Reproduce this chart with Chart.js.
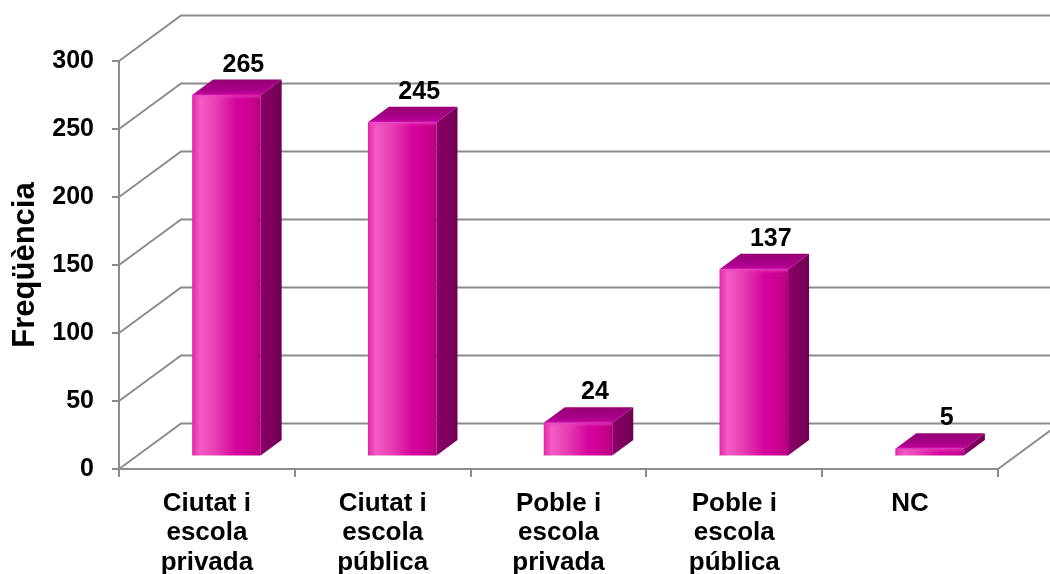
<!DOCTYPE html>
<html>
<head>
<meta charset="utf-8">
<script src="https://cdn.jsdelivr.net/npm/chart.js@4.4.0/dist/chart.umd.min.js"></script>
<style>
  html, body { margin: 0; padding: 0; background: #ffffff; }
  #wrap { width: 1050px; height: 574px; }
</style>
</head>
<body>
<div id="wrap"><canvas id="chart" width="1050" height="574"></canvas></div>
<script>
// Categories (multi-line axis labels)
const categories = [
  ['Ciutat i', 'escola', 'privada'],
  ['Ciutat i', 'escola', 'pública'],
  ['Poble i', 'escola', 'privada'],
  ['Poble i', 'escola', 'pública'],
  ['NC']
];
// Frequency per category
const frequencies = [265, 245, 24, 137, 5];
// Value axis ticks
const yTicks = [0, 50, 100, 150, 200, 250, 300];
const axisTitle = 'Freqüència';

// 3D box geometry: depth of the plot box, where the bars sit inside it, and bar depth
const WALL = { dx: 62, dy: -45.5 };
const BAR_SHIFT = { dx: 19.5, dy: -13.5 };
const BAR_DEPTH = { dx: 21, dy: -15.5 };
const BAR_PCT = 0.39;
const GRID_COLOR = '#8c8c8c';
const FONT = "'Liberation Sans', Arial, sans-serif";

function frontGradient(chart, index) {
  const xs = chart.scales.x;
  const cx = xs.getPixelForValue(index);
  const w = (xs.getPixelForValue(1) - xs.getPixelForValue(0)) * BAR_PCT;
  if (!isFinite(cx) || !isFinite(w) || w <= 0) return '#d4009a';
  const g = chart.ctx.createLinearGradient(cx - w / 2, 0, cx + w / 2, 0);
  g.addColorStop(0, '#e02aa4');
  g.addColorStop(0.12, '#f55cc6');
  g.addColorStop(0.35, '#e63db2');
  g.addColorStop(0.65, '#d4049c');
  g.addColorStop(0.92, '#c8008f');
  g.addColorStop(1, '#b00080');
  return g;
}

const box3d = {
  id: 'box3d',
  beforeDatasetsDraw(chart) {
    const { ctx, chartArea: a, scales: { x, y } } = chart;
    ctx.save();
    ctx.strokeStyle = GRID_COLOR;
    ctx.lineWidth = 2;
    ctx.lineCap = 'butt';
    // Left wall diagonals and back wall gridlines, with tick marks on the value axis
    yTicks.forEach(v => {
      const py = y.getPixelForValue(v);
      ctx.beginPath();
      ctx.moveTo(a.left, py);
      ctx.lineTo(a.left + WALL.dx, py + WALL.dy);
      ctx.lineTo(chart.width, py + WALL.dy);
      ctx.stroke();
      ctx.beginPath();
      ctx.moveTo(a.left - 7, py);
      ctx.lineTo(a.left, py);
      ctx.stroke();
    });
    // Value axis
    ctx.beginPath();
    ctx.moveTo(a.left, a.top);
    ctx.lineTo(a.left, a.bottom);
    ctx.stroke();
    // Floor front and right edges
    ctx.beginPath();
    ctx.moveTo(a.left, a.bottom);
    ctx.lineTo(a.right, a.bottom);
    ctx.lineTo(a.right + WALL.dx, a.bottom + WALL.dy);
    ctx.stroke();
    // Category separators
    for (let i = 0; i <= categories.length; i++) {
      const px = Math.round(x.getPixelForValue(i - 0.5));
      ctx.beginPath();
      ctx.moveTo(px, a.bottom);
      ctx.lineTo(px, a.bottom + 8);
      ctx.stroke();
    }
    ctx.restore();
    // Bars sit a little behind the front plane
    ctx.save();
    ctx.translate(BAR_SHIFT.dx, BAR_SHIFT.dy);
  },
  afterDatasetsDraw(chart) {
    const { ctx } = chart;
    const meta = chart.getDatasetMeta(0);
    meta.data.forEach(bar => {
      const { x, y, base, width } = bar.getProps(['x', 'y', 'base', 'width'], true);
      const l = x - width / 2, r = x + width / 2;
      // side face
      const sg = ctx.createLinearGradient(r, 0, r + BAR_DEPTH.dx, 0);
      sg.addColorStop(0, '#8c0068');
      sg.addColorStop(1, '#700052');
      ctx.fillStyle = sg;
      ctx.beginPath();
      ctx.moveTo(r, y);
      ctx.lineTo(r + BAR_DEPTH.dx, y + BAR_DEPTH.dy);
      ctx.lineTo(r + BAR_DEPTH.dx, base + BAR_DEPTH.dy);
      ctx.lineTo(r, base);
      ctx.closePath();
      ctx.fill();
      // top face
      const tg = ctx.createLinearGradient(0, y, 0, y + BAR_DEPTH.dy);
      tg.addColorStop(0, '#c4009e');
      tg.addColorStop(0.35, '#a8008a');
      tg.addColorStop(1, '#960074');
      ctx.fillStyle = tg;
      ctx.beginPath();
      ctx.moveTo(l, y);
      ctx.lineTo(l + BAR_DEPTH.dx, y + BAR_DEPTH.dy);
      ctx.lineTo(r + BAR_DEPTH.dx, y + BAR_DEPTH.dy);
      ctx.lineTo(r, y);
      ctx.closePath();
      ctx.fill();
      // soft bevel highlight along the front top edge
      const hg = ctx.createLinearGradient(0, y - 2, 0, y + 4);
      hg.addColorStop(0, 'rgba(230,60,190,0.0)');
      hg.addColorStop(0.5, 'rgba(235,70,195,0.55)');
      hg.addColorStop(1, 'rgba(230,60,190,0.0)');
      ctx.fillStyle = hg;
      ctx.fillRect(l + 2, y - 2, width - 2, 6);
    });
    ctx.restore();
    // value labels above each bar
    ctx.save();
    ctx.fillStyle = '#000';
    ctx.font = 'bold 25px ' + FONT;
    ctx.textAlign = 'center';
    ctx.textBaseline = 'alphabetic';
    meta.data.forEach((bar, i) => {
      const { x, y } = bar.getProps(['x', 'y'], true);
      ctx.fillText(String(frequencies[i]),
        x + BAR_SHIFT.dx + 17,
        y + BAR_SHIFT.dy + BAR_DEPTH.dy - 8);
    });
    ctx.restore();
  }
};

new Chart(document.getElementById('chart'), {
  type: 'bar',
  data: {
    labels: categories,
    datasets: [{
      data: frequencies,
      backgroundColor: (c) => (c.type === 'data' && c.chart.scales.x)
        ? frontGradient(c.chart, c.dataIndex) : '#d4009a',
      borderWidth: 0,
      barPercentage: BAR_PCT,
      categoryPercentage: 1,
      clip: false
    }]
  },
  options: {
    responsive: false,
    animation: false,
    devicePixelRatio: 1,
    layout: { padding: { top: 61, right: 52, bottom: 0, left: 0 } },
    plugins: { legend: { display: false }, tooltip: { enabled: false } },
    scales: {
      x: {
        grid: { display: false },
        border: { display: false },
        ticks: {
          color: '#000',
          padding: 12,
          maxRotation: 0,
          autoSkip: false,
          font: { family: FONT, size: 26, weight: 'bold', lineHeight: '29.5px' }
        },
        afterFit(s) { s.height = 105; }
      },
      y: {
        min: 0,
        max: 300,
        grid: { display: false },
        border: { display: false },
        ticks: {
          stepSize: 50,
          color: '#000',
          padding: 17,
          font: { family: FONT, size: 25, weight: 'bold' }
        },
        title: {
          display: true,
          text: axisTitle,
          color: '#000',
          padding: { top: 7, bottom: 0 },
          font: { family: FONT, size: 31, weight: 'bold' }
        },
        afterFit(s) { s.width = 119; }
      }
    }
  },
  plugins: [box3d]
});
</script>
</body>
</html>
